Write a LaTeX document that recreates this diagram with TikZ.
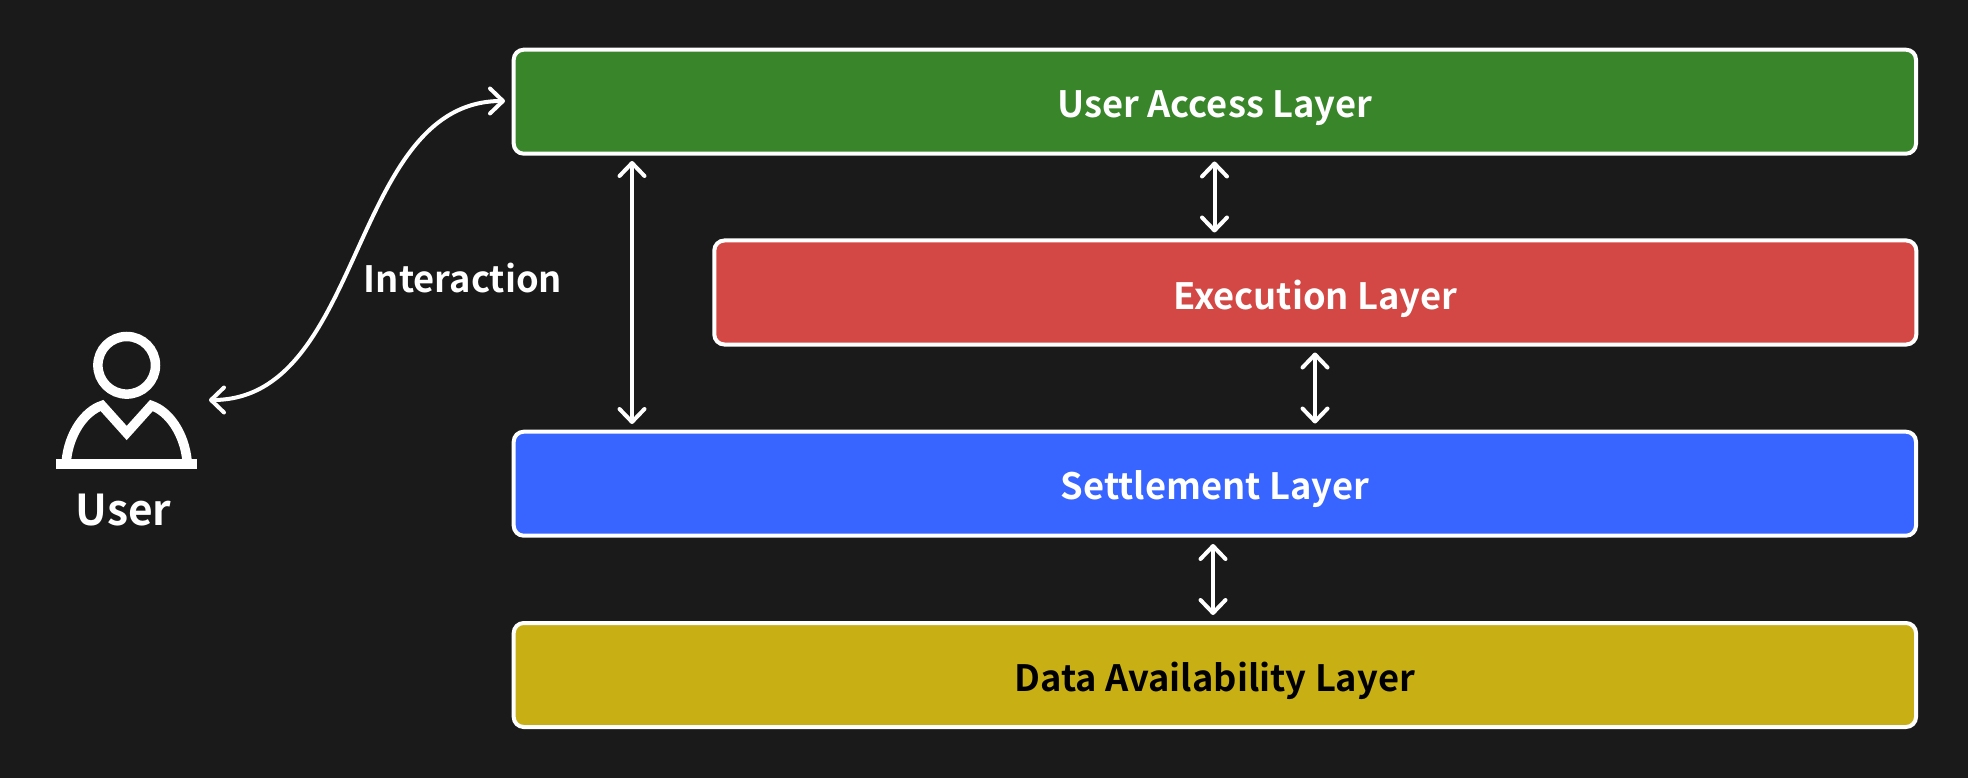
\documentclass[tikz,border=0pt]{standalone}
\usepackage{fontspec}
\setmainfont{Noto Sans CJK SC}[BoldFont={Noto Sans CJK SC Bold}]
\usetikzlibrary{arrows.meta}
\definecolor{bgc}{HTML}{1A1A1A}
\definecolor{gr}{HTML}{38852A}
\definecolor{rd}{HTML}{D34844}
\definecolor{bl}{HTML}{3864FF}
\definecolor{yl}{HTML}{C8B014}
\tikzset{
  layer/.style={draw=white,line width=4pt,rounded corners=10pt,minimum height=104pt,inner sep=0pt,outer sep=0pt,anchor=north west,font=\fontsize{36.3}{40}\selectfont\bfseries,text=white,text height=32pt,text depth=0pt},
  conn/.style={draw=white,line width=4pt,{Straight Barb[length=13pt,width=25pt,line width=4pt,round]}-{Straight Barb[length=13pt,width=25pt,line width=4pt,round]}},
  lab/.style={text=white,font=\fontsize{36.3}{40}\selectfont\bfseries,inner sep=0pt,anchor=base},
  icon/.style={draw=white,line width=9.5pt}
}
\begin{document}
\begin{tikzpicture}[x=1pt,y=-1pt]
\useasboundingbox (0,0) rectangle (1968,778);
\fill[bgc] (0,0) rectangle (1968,778);
\node[layer,fill=gr,minimum width=1402.3pt] (ua) at (513.7,49.7) {User Access Layer};
\node[layer,fill=rd,minimum width=1202pt,text height=34pt] (ex) at (714.3,240.5) {Execution Layer};
\node[layer,fill=bl,minimum width=1402.3pt] (se) at (513.7,431.7) {Settlement Layer};
\node[layer,fill=yl,minimum width=1402.3pt,text=black] (da) at (513.7,623) {Data Availability Layer};
\node[lab] (il) at (463,292.8) {Interaction};
\node[lab,font=\fontsize{42.5}{46}\selectfont\bfseries] (ul) at (123.5,525) {User};
\coordinate (ui) at (209,400);
\coordinate (ue) at (505,101);
\draw[conn] (ui) .. controls (365,400) and (349,101) .. (ue);
\coordinate (a1) at (632,161);\coordinate (a2) at (632,424);
\draw[conn] (a1) -- (a2);
\coordinate (b1) at (1214.5,161.5);\coordinate (b2) at (1214.5,232.5);
\draw[conn] (b1) -- (b2);
\coordinate (c1) at (1315,352.5);\coordinate (c2) at (1315,423.5);
\draw[conn] (c1) -- (c2);
\coordinate (d1) at (1213,544);\coordinate (d2) at (1213,615);
\draw[conn] (d1) -- (d2);
\draw[icon] (126.7,365.3) circle (28.8pt);
\draw[icon] (56,464.2) -- (196.7,464.2);
\draw[icon,line join=miter] (66.3,461) .. controls (69,433) and (85,411) .. (102,405.5) -- (126.7,433) -- (151.4,405.5) .. controls (168.4,411) and (184.4,433) .. (187.1,461);
\end{tikzpicture}
\end{document}
